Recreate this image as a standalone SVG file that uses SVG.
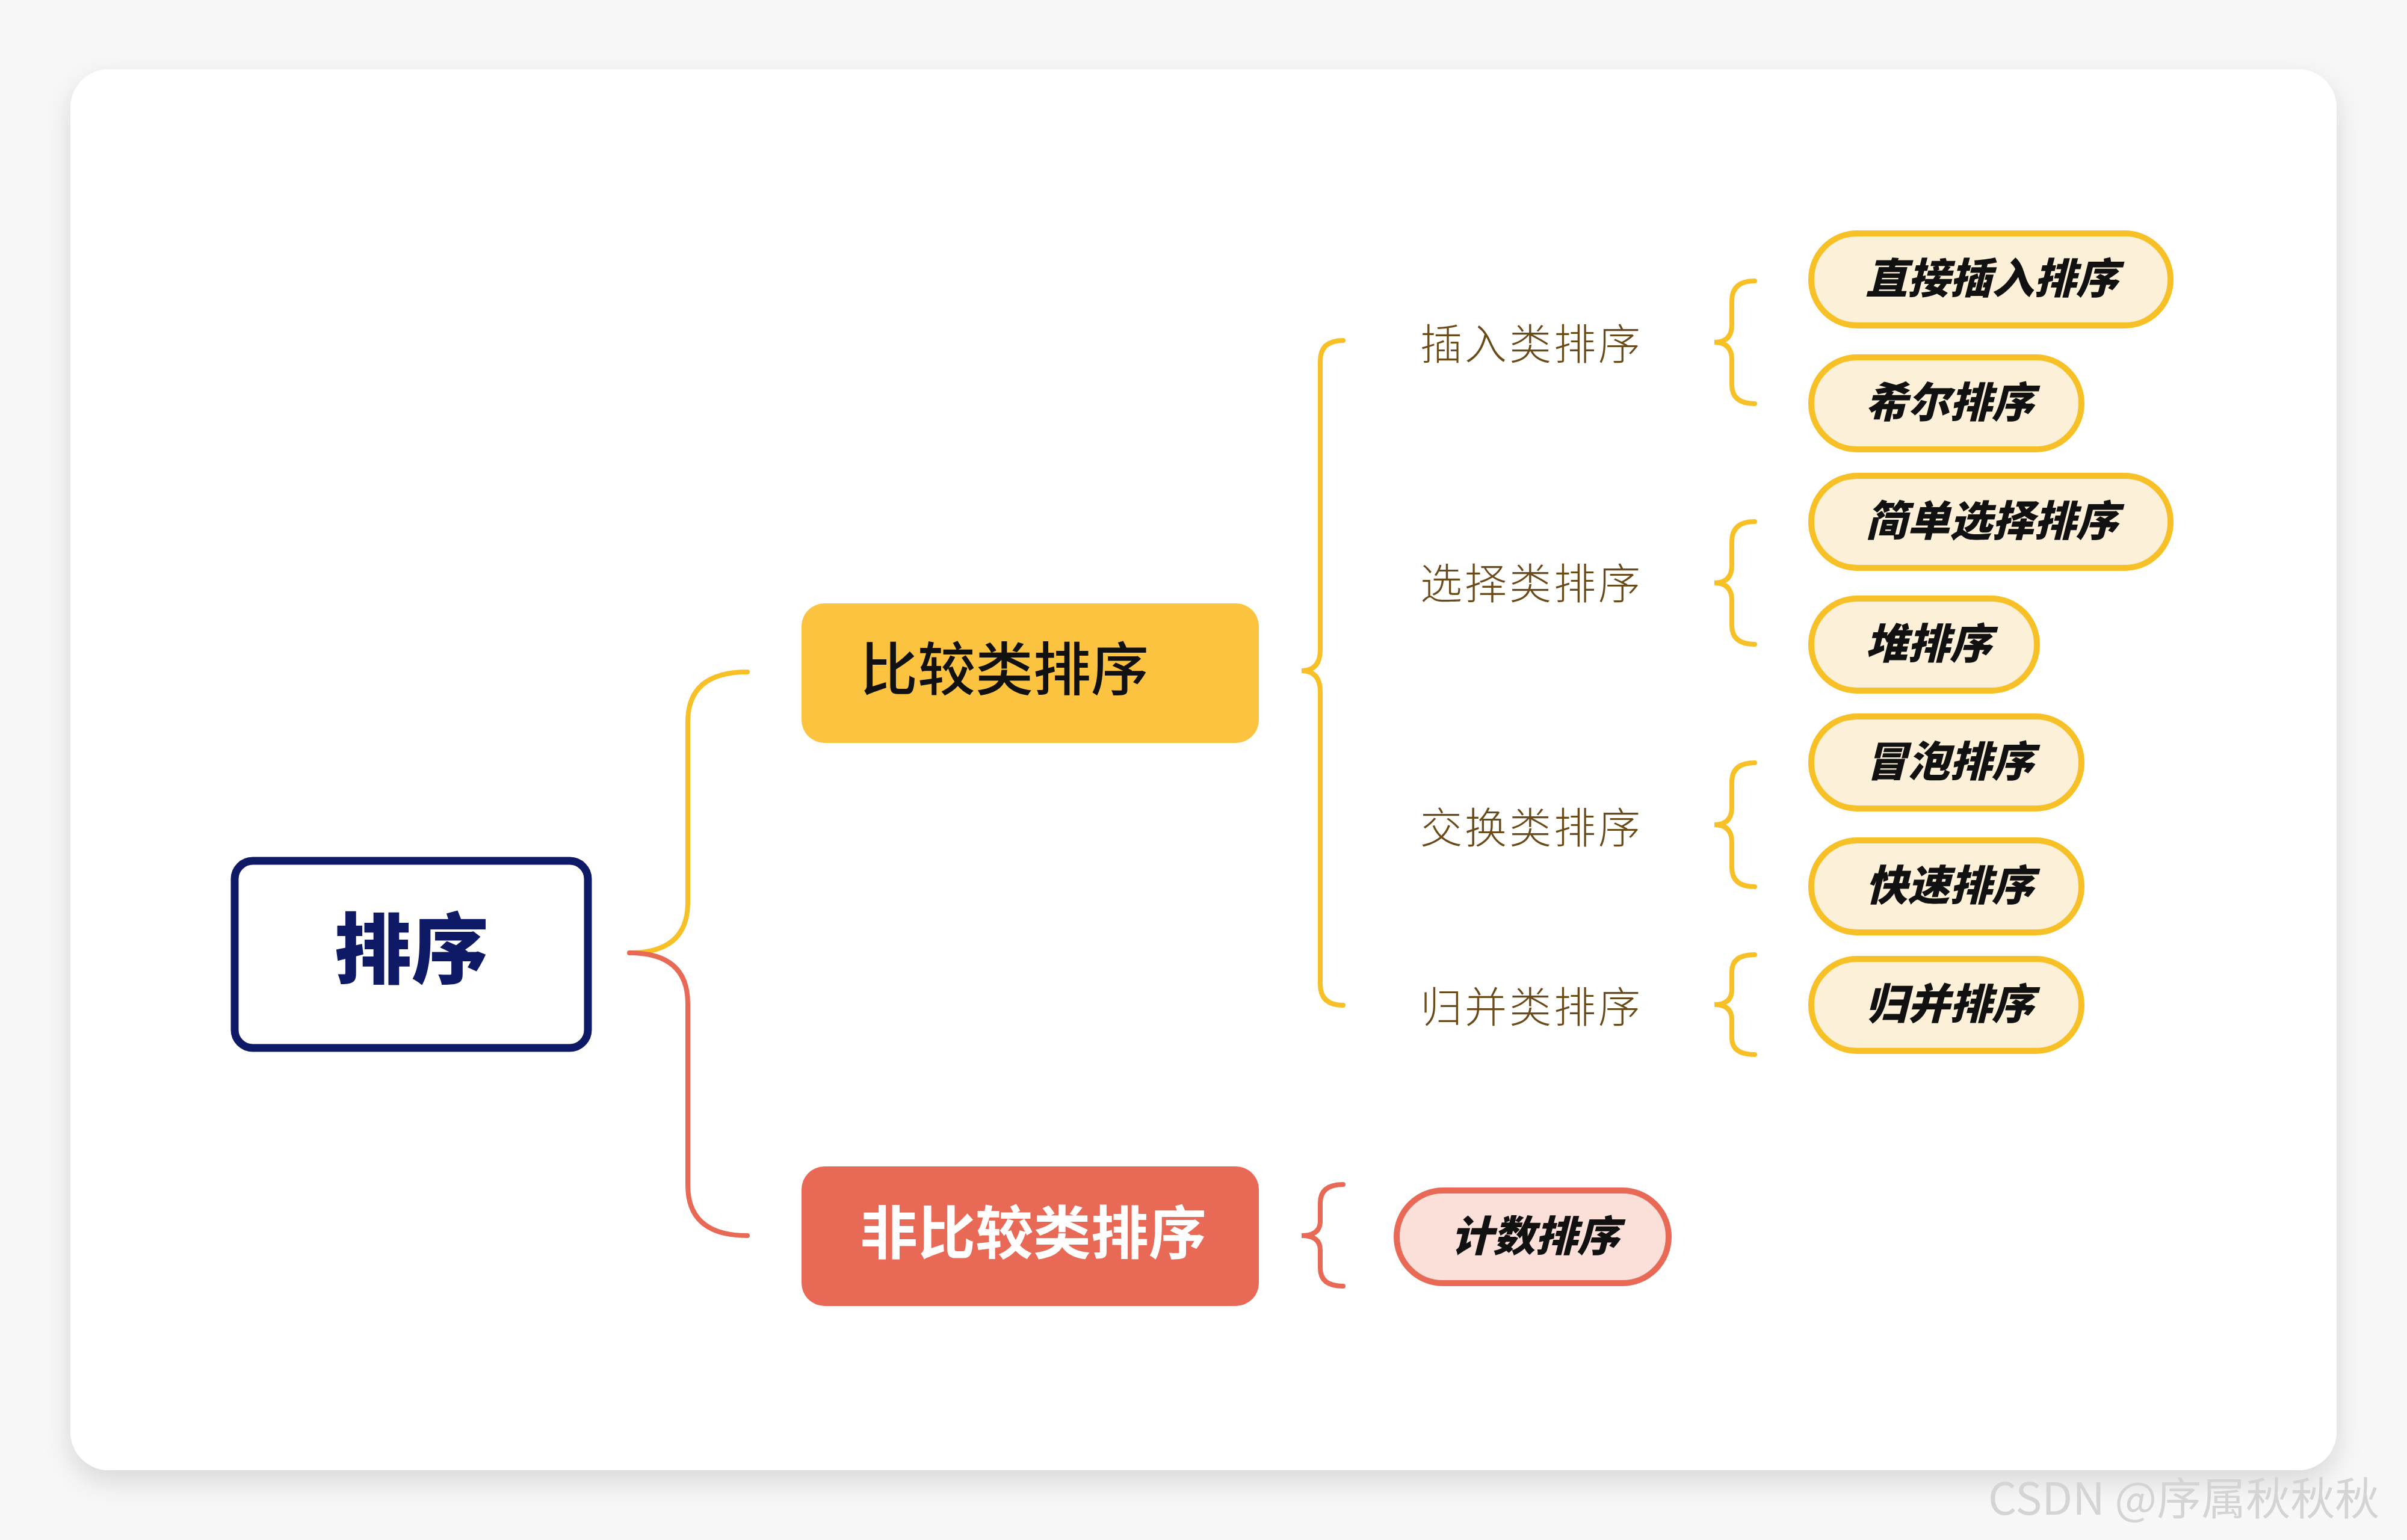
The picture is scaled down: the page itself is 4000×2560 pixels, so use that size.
<svg xmlns="http://www.w3.org/2000/svg" width="4000" height="2560" viewBox="0 0 4000 2560">
<defs>
<filter id="sh" x="-5%" y="-5%" width="110%" height="115%"><feDropShadow dx="0" dy="18" stdDeviation="22" flood-color="#000" flood-opacity="0.13"/></filter>
<style>
.cat{font-family:"Noto Sans CJK SC","Noto Sans",sans-serif;font-size:70px;fill:#6b4a1a;letter-spacing:4px;font-weight:300}
.pill{fill:#fdf0d8;stroke:#f6c026;stroke-width:10}
.pt{font-family:"Noto Sans CJK SC",sans-serif;font-size:70px;font-weight:900;font-style:italic;fill:#111}
.yb{fill:none;stroke:#f6c026;stroke-width:8;stroke-linecap:round}
.rb{fill:none;stroke:#e86a56;stroke-width:8;stroke-linecap:round}
</style>
</defs>
<rect width="4000" height="2560" fill="#f7f7f7"/>
<rect x="117" y="115" width="3766" height="2329" rx="64" fill="#fff" filter="url(#sh)"/>
<g id="connectors">
<path class="yb" d="M1046 1584 Q1143 1584 1143 1500 L1143 1200 Q1143 1117 1242 1117"/>
<path class="rb" d="M1046 1584 Q1143 1584 1143 1668 L1143 1970 Q1143 2054 1242 2054"/>
<path class="yb" d="M2232 566 Q2194 566 2194 600 L2194 1080 Q2194 1115 2163 1115 Q2194 1115 2194 1150 L2194 1636 Q2194 1671 2232 1671"/>
<path class="yb" d="M2916 467 Q2878 467 2878 500 L2878 540 Q2878 569 2849 569 Q2878 569 2878 598 L2878 640 Q2878 671 2916 671"/>
<path class="yb" d="M2916 867 Q2878 867 2878 900 L2878 940 Q2878 969 2849 969 Q2878 969 2878 998 L2878 1040 Q2878 1071 2916 1071"/>
<path class="yb" d="M2916 1268 Q2878 1268 2878 1300 L2878 1342 Q2878 1371 2849 1371 Q2878 1371 2878 1400 L2878 1442 Q2878 1474 2916 1474"/>
<path class="yb" d="M2916 1587 Q2878 1587 2878 1615 L2878 1645 Q2878 1670 2849 1670 Q2878 1670 2878 1695 L2878 1725 Q2878 1753 2916 1753"/>
<path class="rb" d="M2232 1969 Q2194 1969 2194 2000 L2194 2030 Q2194 2054 2163 2054 Q2194 2054 2194 2078 L2194 2108 Q2194 2138 2232 2138"/>
</g>
<g id="root">
<rect x="390" y="1431" width="587" height="311" rx="30" fill="#fff" stroke="#0f1a66" stroke-width="13"/>
<text x="684" y="1625" text-anchor="middle" font-family="Noto Sans CJK SC,sans-serif" font-size="128" font-weight="900" fill="#0f1a66">排序</text>
</g>
<g id="cmp">
<rect x="1332" y="1003" width="760" height="232" rx="38" fill="#fbc33f"/>
<text x="1429" y="1147" font-family="Noto Sans CJK SC,sans-serif" font-size="96" font-weight="500" fill="#111">比较类排序</text>
</g>
<g id="noncmp">
<rect x="1332" y="1939" width="760" height="232" rx="38" fill="#e86a56"/>
<text x="1429" y="2084" font-family="Noto Sans CJK SC,sans-serif" font-size="96" font-weight="700" fill="#fff">非比较类排序</text>
</g>
<g id="c1"><text class="cat" x="2360" y="598">插入类排序</text></g>
<g id="c2"><text class="cat" x="2360" y="996">选择类排序</text></g>
<g id="c3"><text class="cat" x="2360" y="1402">交换类排序</text></g>
<g id="c4"><text class="cat" x="2360" y="1700">归并类排序</text></g>
<g id="p1"><rect class="pill" x="3010" y="388" width="597" height="153" rx="76"/><text class="pt" x="3100" y="488">直接插入排序</text></g>
<g id="p2"><rect class="pill" x="3010" y="594" width="449" height="153" rx="76"/><text class="pt" x="3100" y="694">希尔排序</text></g>
<g id="p3"><rect class="pill" x="3010" y="791" width="597" height="153" rx="76"/><text class="pt" x="3100" y="891">简单选择排序</text></g>
<g id="p4"><rect class="pill" x="3010" y="995" width="375" height="153" rx="76"/><text class="pt" x="3100" y="1095">堆排序</text></g>
<g id="p5"><rect class="pill" x="3010" y="1191" width="449" height="153" rx="76"/><text class="pt" x="3100" y="1291">冒泡排序</text></g>
<g id="p6"><rect class="pill" x="3010" y="1397" width="449" height="153" rx="76"/><text class="pt" x="3100" y="1497">快速排序</text></g>
<g id="p7"><rect class="pill" x="3010" y="1594" width="449" height="153" rx="76"/><text class="pt" x="3100" y="1694">归并排序</text></g>
<g id="p8"><rect x="2321" y="1979" width="452" height="154" rx="77" fill="#fbe0da" stroke="#e86a56" stroke-width="10"/><text class="pt" x="2411" y="2080">计数排序</text></g>
<text x="3304" y="2518" font-family="Noto Sans CJK SC,sans-serif" font-size="74" fill="#d4d4d4">CSDN @序属秋秋秋</text>
</svg>
